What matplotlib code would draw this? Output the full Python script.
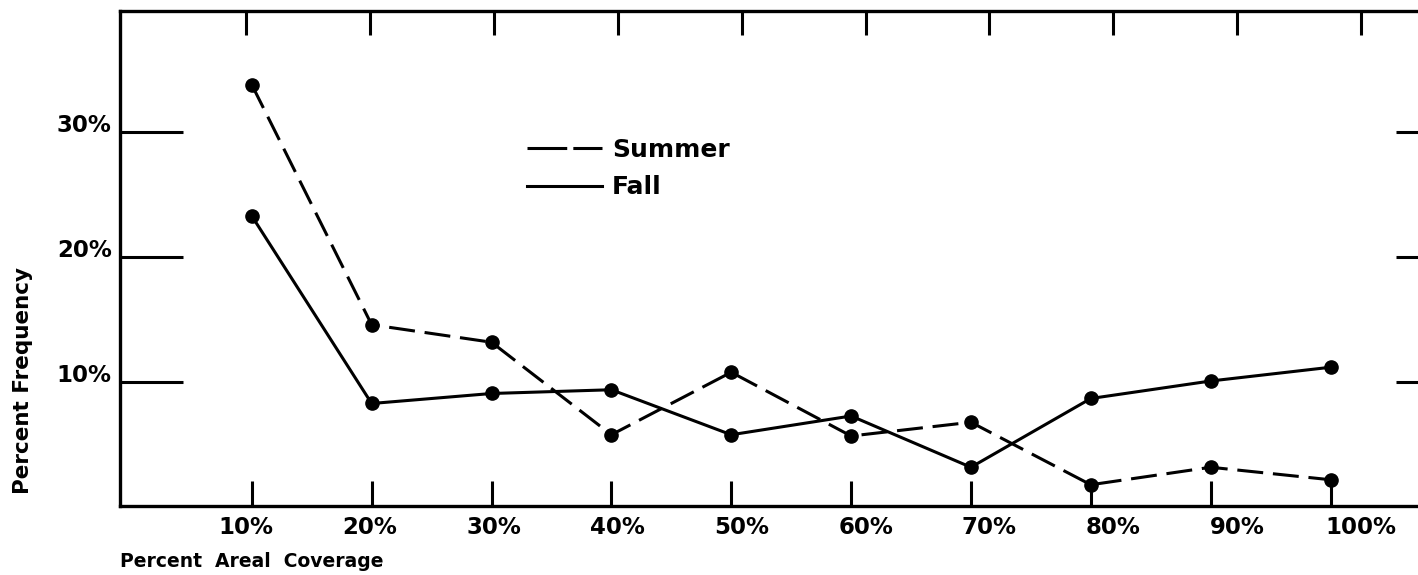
import matplotlib
matplotlib.use('Agg')
import matplotlib.pyplot as plt
import matplotlib.transforms as mtransforms
from matplotlib.lines import Line2D

### Data
coverage = [10, 20, 30, 40, 50, 60, 70, 80, 90, 100]
coverage_labels = ['10%', '20%', '30%', '40%', '50%', '60%', '70%', '80%', '90%', '100%']
summer = [33.8, 14.6, 13.2, 5.8, 10.8, 5.7, 6.8, 1.8, 3.2, 2.2]
fall = [23.3, 8.3, 9.1, 9.4, 5.8, 7.3, 3.2, 8.7, 10.1, 11.2]
freq_ticks = [10, 20, 30]
freq_labels = ['10%', '20%', '30%']

### Plot settings
lw = 2.2
msize = 9.5
dash = (0, (8.5, 3.2))
ticksize = 16.5
labelsize = 13.5

fig = plt.figure(figsize=(14.18, 5.75), dpi=100)
ax = fig.add_axes([0.0846, 0.12, 0.9154, 0.8609])
axt = ax.twiny()   # top ticks + bottom tick labels (hand-drawn spacing)
axr = ax.twinx()   # short ticks on the right edge

ax.plot(coverage, summer, color='k', lw=lw, ls=dash, marker='o', ms=msize)
ax.plot(coverage, fall, color='k', lw=lw, marker='o', ms=msize)

ax.set_xlim(-1.0, 107.3)
ax.set_ylim(0.1, 39.7)
axr.set_ylim(0.1, 39.7)
axt.set_xlim(-0.2, 104.6)

for s in ['top', 'bottom', 'left']:
    ax.spines[s].set_linewidth(2.4)
ax.spines['right'].set_visible(False)
for a in (axt, axr):
    for s in a.spines.values():
        s.set_visible(False)

# main axis: bottom ticks, left ticks + labels
ax.set_xticks(coverage)
ax.tick_params(axis='x', bottom=True, top=False, labelbottom=False, labeltop=False,
               direction='in', length=18, width=2.2)
ax.set_yticks(freq_ticks, freq_labels)
ax.tick_params(axis='y', left=True, right=False, direction='in', length=45, width=2.2,
               pad=6, labelsize=ticksize)
for lab in ax.get_yticklabels():
    lab.set_fontweight('bold')

# top ticks and the x tick labels
axt.set_xticks(coverage, coverage_labels)
axt.tick_params(axis='x', top=True, bottom=False, labeltop=False, labelbottom=True,
                direction='in', length=17, width=2.2, pad=7, labelsize=ticksize)
for lab in axt.get_xticklabels():
    lab.set_fontweight('bold')

# right ticks
axr.set_yticks(freq_ticks)
axr.tick_params(axis='y', right=True, left=False, labelright=False, labelleft=False,
                direction='in', length=16, width=2.2)

ax.set_xlabel('Percent  Areal  Coverage', fontsize=labelsize, fontweight='bold', loc='left')
ax.xaxis.set_label_coords(0, -0.093)
ax.set_ylabel('Percent Frequency', fontsize=15.5, fontweight='bold')
ax.yaxis.set_label_coords(-0.067, 0.2545)

handles = [Line2D([], [], color='k', lw=lw, ls=(0, (13, 2))),
           Line2D([], [], color='k', lw=lw)]
ax.legend(handles, ['Summer', 'Fall'], loc='upper left', bbox_to_anchor=(0.3136, 0.7434),
          frameon=False, prop={'size': 18, 'weight': 'bold'}, handlelength=3.0,
          handletextpad=0.4, labelspacing=0.53, borderpad=0, borderaxespad=0)

# y tick labels sit a little above their ticks in the original
offset = mtransforms.ScaledTranslation(0, 6.5 / 72, fig.dpi_scale_trans)
for lab in ax.get_yticklabels():
    lab.set_transform(lab.get_transform() + offset)

plt.savefig('out.png', dpi=100)
